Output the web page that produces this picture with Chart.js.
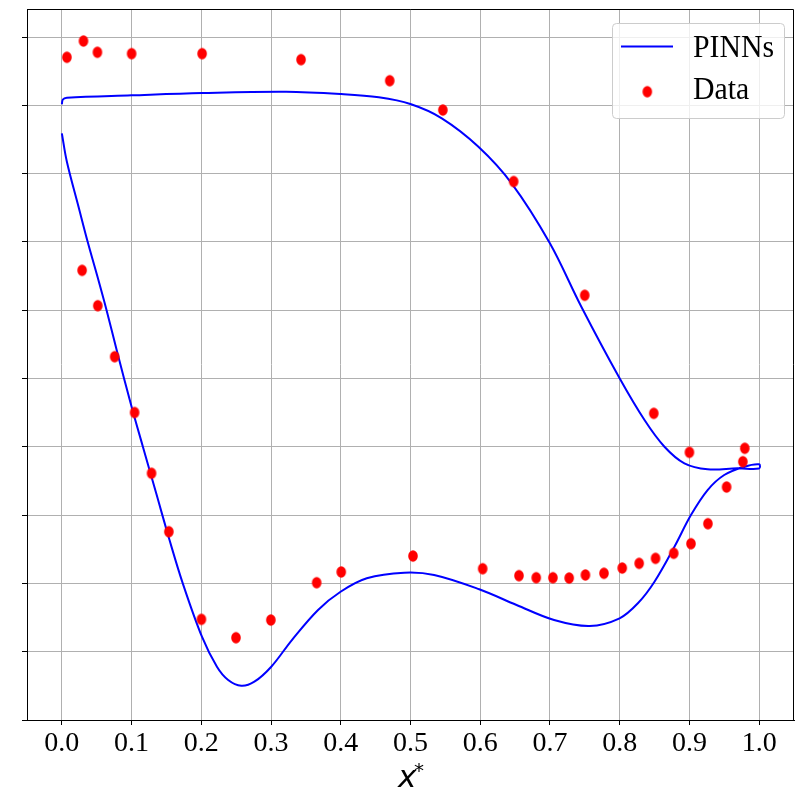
<!DOCTYPE html>
<html>
<head>
<meta charset="utf-8">
<script src="https://cdn.jsdelivr.net/npm/chart.js@4.4.0/dist/chart.umd.min.js"></script>
<style>
  html, body { margin: 0; padding: 0; background: #fff; }
</style>
</head>
<body>
<canvas id="chart" width="799" height="796"></canvas>
<script>
// PINNs curve, one closed path: lower branch left -> right, then upper branch right -> left
const pinnsX = [0, 0.0072, 0.0239, 0.0372, 0.0524, 0.0643, 0.0786, 0.1000, 0.1162, 0.1353,
  0.1544, 0.1734, 0.2009, 0.2224, 0.2385, 0.2573, 0.2761, 0.3003, 0.3299, 0.3674,
  0.3997, 0.4373, 0.4911, 0.5339, 0.5985, 0.6521, 0.7059, 0.7570, 0.7999, 0.8261,
  0.8499, 0.8785, 0.9022, 0.9261, 0.9499, 0.9786, 1.0,
  1.0, 0.9690, 0.9261, 0.8928, 0.8642, 0.8356, 0.7999, 0.7450, 0.6999, 0.6450,
  0.5974, 0.5449, 0.4998, 0.4545, 0.4006, 0.3216, 0.2011, 0.1000, 0.0072, 0.0014, 0];
const pinnsY = [0.859, 0.8174, 0.7515, 0.6994, 0.6442, 0.5993, 0.5417, 0.4587, 0.4002, 0.3319,
  0.2635, 0.2001, 0.1220, 0.0780, 0.0586, 0.0502, 0.0561, 0.0780, 0.1171, 0.1611,
  0.1878, 0.2075, 0.2157, 0.2123, 0.1914, 0.1684, 0.1464, 0.1376, 0.1489, 0.1709,
  0.2025, 0.2537, 0.3001, 0.3367, 0.3587, 0.3709, 0.3744,
  0.3682, 0.3685, 0.3671, 0.3758, 0.4001, 0.4392, 0.5003, 0.6051, 0.6980, 0.7858,
  0.8394, 0.8810, 0.9019, 0.9117, 0.9165, 0.9199, 0.9180, 0.9146, 0.9111, 0.9085, 0.9015];

// measured points
const dataX = [0.0072, 0.0310, 0.0510, 0.1000, 0.2011, 0.3430, 0.4702, 0.5464, 0.6479, 0.7499,
  0.8489, 0.9000, 0.9794, 0.9766,
  0.0290, 0.0515, 0.0757, 0.1043, 0.1286, 0.1534, 0.2001, 0.2497, 0.2997, 0.3654,
  0.4006, 0.5035, 0.6035, 0.6556, 0.6803, 0.7042, 0.7275, 0.7508, 0.7775, 0.8036,
  0.8279, 0.8514, 0.8775, 0.9022, 0.9265, 0.9533];
const dataY = [0.9703, 0.9941, 0.9776, 0.9756, 0.9756, 0.9668, 0.9360, 0.8931, 0.7884, 0.6218,
  0.4490, 0.3919, 0.3978, 0.3782,
  0.6584, 0.6066, 0.5319, 0.4502, 0.3612, 0.2757, 0.1474, 0.1205, 0.1464, 0.2010,
  0.2167, 0.2401, 0.2215, 0.2113, 0.2083, 0.2083, 0.2079, 0.2123, 0.2148, 0.2225,
  0.2294, 0.2367, 0.2441, 0.2581, 0.2874, 0.3411];

const xTicks = [0, 0.1, 0.2, 0.3, 0.4, 0.5, 0.6, 0.7, 0.8, 0.9, 1.0];
const yTicks = [0, 0.1, 0.2, 0.3, 0.4, 0.5, 0.6, 0.7, 0.8, 0.9, 1.0];

const serif = '"Liberation Serif", "DejaVu Serif", serif';

// ellipse marker (the picture is slightly squeezed sideways)
function ellipseMarker(rx, ry, color) {
  const c = document.createElement("canvas");
  c.width = Math.ceil(rx * 2) + 2;
  c.height = Math.ceil(ry * 2) + 2;
  const g = c.getContext("2d");
  g.fillStyle = color;
  g.beginPath();
  g.ellipse(c.width / 2, c.height / 2, rx, ry, 0, 0, Math.PI * 2);
  g.fill();
  return c;
}
const dot = ellipseMarker(4.8, 5.8, "#ff0000");

// text squeezed sideways like the rest of the picture
function squeezedText(ctx, text, x, y, sx) {
  ctx.save();
  ctx.translate(x, y);
  ctx.scale(sx, 1);
  ctx.fillText(text, 0, 0);
  ctx.restore();
}

const frameAndLegend = {
  id: "frameAndLegend",
  afterDraw(chart) {
    const ctx = chart.ctx;
    const a = chart.chartArea;
    ctx.save();
    // top and right spines
    ctx.strokeStyle = "#000";
    ctx.lineWidth = 1;
    ctx.beginPath();
    ctx.moveTo(a.left, a.top + 0.5);
    ctx.lineTo(a.right - 0.5, a.top + 0.5);
    ctx.lineTo(a.right - 0.5, a.bottom);
    ctx.stroke();

    // legend
    ctx.beginPath();
    ctx.roundRect(612.5, 23.5, 172, 95, 4);
    ctx.fillStyle = "rgba(255,255,255,0.8)";
    ctx.fill();
    ctx.strokeStyle = "#cccccc";
    ctx.stroke();

    ctx.strokeStyle = "#0000ff";
    ctx.lineWidth = 2;
    ctx.beginPath();
    ctx.moveTo(621, 46.5);
    ctx.lineTo(673, 46.5);
    ctx.stroke();
    ctx.drawImage(dot, 647.3 - dot.width / 2, 91.7 - dot.height / 2);

    ctx.fillStyle = "#000";
    ctx.font = "32px " + serif;
    ctx.textBaseline = "alphabetic";
    ctx.textAlign = "left";
    squeezedText(ctx, "PINNs", 693, 57.3, 0.93);
    squeezedText(ctx, "Data", 693, 99.3, 0.93);

    // x label: italic x with a raised star
    ctx.font = 'italic 31px "DejaVu Sans", sans-serif';
    ctx.fillText("x", 398, 787);
    ctx.font = '20px "DejaVu Sans", sans-serif';
    ctx.fillText("*", 414, 777);
    ctx.restore();
  },
};

new Chart(document.getElementById("chart"), {
  type: "scatter",
  data: {
    datasets: [
      {
        label: "PINNs",
        data: pinnsX.map((x, i) => ({ x, y: pinnsY[i] })),
        showLine: true,
        borderColor: "#0000ff",
        borderWidth: 2,
        pointRadius: 0,
        tension: 0.35,
        order: 2,
      },
      {
        label: "Data",
        data: dataX.map((x, i) => ({ x, y: dataY[i] })),
        pointStyle: dot,
        backgroundColor: "#ff0000",
        order: 1,
      },
    ],
  },
  options: {
    responsive: false,
    animation: false,
    devicePixelRatio: 1,
    layout: { padding: { left: 0, right: 2, top: 9, bottom: 0 } },
    plugins: {
      legend: { display: false },
      tooltip: { enabled: false },
    },
    scales: {
      x: {
        type: "linear",
        min: -0.05,
        max: 1.05,
        afterBuildTicks: (s) => { s.ticks = xTicks.map((v) => ({ value: v })); },
        afterFit: (s) => { s.height = 76; },
        ticks: {
          callback: (v) => v.toFixed(1),
          color: "#000",
          font: { family: serif, size: 28 },
          padding: 2,
          maxRotation: 0,
          autoSkip: false,
        },
        grid: { color: "#b0b0b0", lineWidth: 1, tickColor: "#000", tickLength: 5 },
        border: { color: "#000", width: 1 },
      },
      y: {
        type: "linear",
        min: 0,
        max: 1.041,
        afterBuildTicks: (s) => { s.ticks = yTicks.map((v) => ({ value: v })); },
        afterFit: (s) => { s.width = 27; },
        ticks: { callback: () => "", padding: 0 },
        grid: { color: "#b0b0b0", lineWidth: 1, tickColor: "#000", tickLength: 5 },
        border: { color: "#000", width: 1 },
      },
    },
  },
  plugins: [frameAndLegend],
});
</script>
</body>
</html>
